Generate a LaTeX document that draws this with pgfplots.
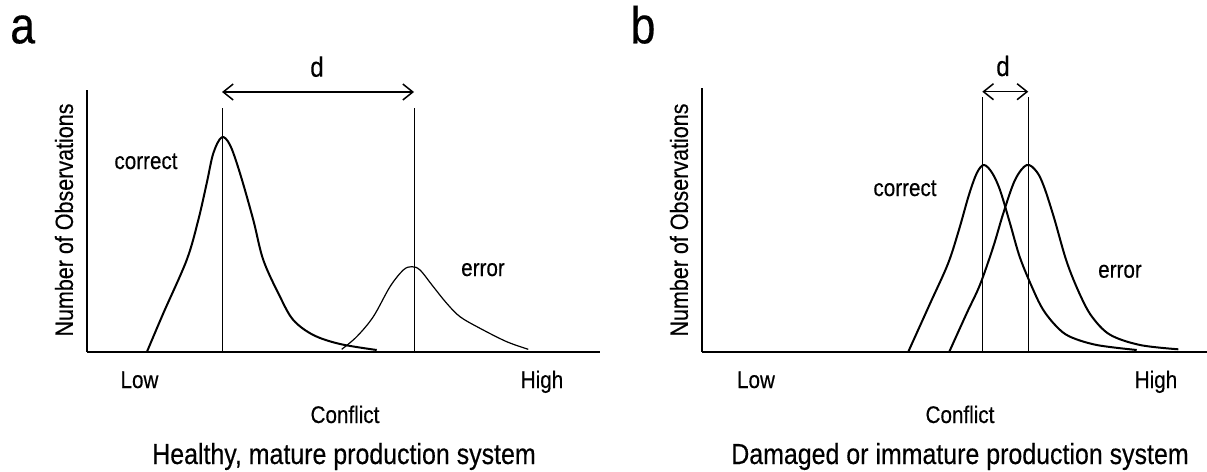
\documentclass[border=0pt]{standalone}
\usepackage{fontspec}
\setmainfont{Liberation Sans}[FakeStretch=0.86, FakeBold=0.35]
\usepackage{pgfplots}
\usepackage{pgfplotstable}
\pgfplotsset{compat=1.18}
\usetikzlibrary{arrows.meta}

% panel a: correct responses
\pgfplotstableread{
x y
60 0
76.3 38.4
99.7 91.7
111.3 131.7
119.7 168.4
126.3 198.4
134.7 214.4
143 206.7
153 178.4
166.3 131.7
176.3 91.7
193 55
206.3 31.7
226.3 16.7
253 7.7
289.7 1.7
}\corra
% panel a: errors
\pgfplotstableread{
x y
254.7 2.4
269.7 15
286.3 35
303 65
316.3 81.7
324.7 85
333 81.7
346.3 65
359.7 48.4
373 35
393 23.4
419.7 10
441.3 2.4
}\erra
% panel b: correct responses
\pgfplotstableread{
x y
206.3 0
228 48
246 88
257 122
267 157
275 179
282 186.7
290 179
298 161.7
308 128.4
318 94
331.3 61.7
341.3 41.7
354.7 25
368 15
394.7 6.7
434.7 1.7
}\corrb
% panel b: errors
\pgfplotstableread{
x y
247.3 0
264.7 38.4
278 67
291.3 105
301.3 138.4
313 171.7
324.7 186.7
334.7 180
342 165
352 134
364.7 90
378 57
390 35
408 17
438 6.7
476.3 2.4
}\errb

\pgfplotsset{
  panel/.style={scale only axis, axis lines=left,
    axis line style={-, line width=1pt},
    xtick=\empty, ytick=\empty, xmin=0, ymin=0,
    clip=false, anchor=south west},
}
\tikzset{
  lbl/.style={font=\fontsize{12}{13}\selectfont, anchor=base},
  dl/.style={font=\fontsize{14}{15}\selectfont, anchor=base},
  ttl/.style={font=\fontsize{14.5}{16}\selectfont, anchor=base},
  ylb/.style={font=\fontsize{12.5}{14}\selectfont, rotate=90, anchor=center},
  pl/.style={font=\fontsize{26}{28}\selectfont, anchor=base},
  dar/.style={{Straight Barb[length=5pt,width=8pt]}-{Straight Barb[length=5pt,width=8pt]}, line width=0.75pt},
}

\begin{document}
\begin{tikzpicture}
\useasboundingbox (0,0) rectangle (603.5pt,236pt);

\begin{axis}[panel, at={(43.5pt,60.15pt)}, width=256.5pt, height=131pt,
  xmax=513, ymax=262]
  \addplot[line width=1pt, smooth, tension=0.55] table {\corra};
  \addplot[line width=0.6pt, smooth, tension=0.55] table {\erra};
  \addplot[line width=0.5pt] coordinates {(135,0) (135,243.7)};
  \addplot[line width=0.5pt] coordinates {(327,0) (327,243.7)};
  \addplot[dar] coordinates {(135,259.7) (327,259.7)};
  \node[dl] at (axis cs:230,275) {d};
  \node[lbl] at (axis cs:59,182.7) {correct};
  \node[lbl] at (axis cs:396,75.7) {error};
  \node[lbl] at (axis cs:52.5,-36.3) {Low};
  \node[lbl] at (axis cs:455,-36.3) {High};
  \node[lbl] at (axis cs:258,-71.3) {Conflict};
  \node[ttl] at (axis cs:257,-112.3) {Healthy, mature production system};
  \node[ylb] at (axis cs:-23,131.7) {Number of Observations};
  \node[pl] at (axis cs:-64.3,308.4) {a};
\end{axis}

\begin{axis}[panel, at={(351pt,60.15pt)}, width=252.5pt, height=132pt,
  xmax=505, ymax=264]
  \addplot[line width=1pt, smooth, tension=0.55] table {\corrb};
  \addplot[line width=1pt, smooth, tension=0.55] table {\errb};
  \addplot[line width=0.5pt] coordinates {(280.3,0) (280.3,255)};
  \addplot[line width=0.5pt] coordinates {(326.3,0) (326.3,255)};
  \addplot[dar] coordinates {(280.3,260) (326.3,260)};
  \node[dl] at (axis cs:301,275.7) {d};
  \node[lbl] at (axis cs:203,155.7) {correct};
  \node[lbl] at (axis cs:418,74) {error};
  \node[lbl] at (axis cs:54,-36.3) {Low};
  \node[lbl] at (axis cs:454,-36.3) {High};
  \node[lbl] at (axis cs:258,-71.3) {Conflict};
  \node[ttl] at (axis cs:258,-112.3) {Damaged or immature production system};
  \node[ylb] at (axis cs:-23,131.7) {Number of Observations};
  \node[pl] at (axis cs:-59,308.4) {b};
\end{axis}
\end{tikzpicture}
\end{document}
